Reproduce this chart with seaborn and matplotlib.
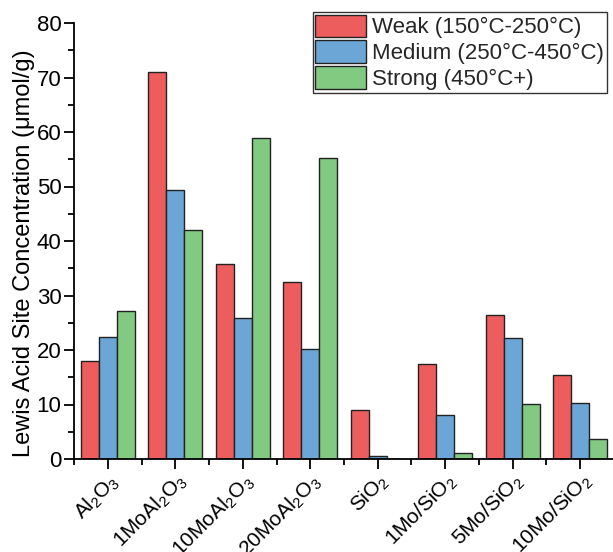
import matplotlib
matplotlib.use("Agg")
import matplotlib.pyplot as plt
import seaborn as sns
import pandas as pd

# Catalysts and acid-site concentrations (µmol/g) by desorption range
catalysts = [r"Al$_2$O$_3$", r"1MoAl$_2$O$_3$", r"10MoAl$_2$O$_3$", r"20MoAl$_2$O$_3$",
             r"SiO$_2$", r"1Mo/SiO$_2$", r"5Mo/SiO$_2$", r"10Mo/SiO$_2$"]
weak = [17.9, 71.1, 35.7, 32.5, 9.0, 17.5, 26.5, 15.4]
medium = [22.4, 49.4, 25.9, 20.1, 0.55, 8.15, 22.2, 10.3]
strong = [27.2, 42.1, 58.9, 55.3, 0.0, 1.1, 10.1, 3.6]
series_names = ["Weak (150°C-250°C)", "Medium (250°C-450°C)", "Strong (450°C+)"]
colors = ["#EE5D5D", "#6CA6D6", "#82C982"]
y_ticks = [0, 10, 20, 30, 40, 50, 60, 70, 80]

sns.set_theme(style="ticks")
plt.rcParams["font.family"] = ["Liberation Sans", "DejaVu Sans"]
plt.rcParams["mathtext.fontset"] = "custom"
plt.rcParams["mathtext.rm"] = "Liberation Sans"
plt.rcParams["mathtext.it"] = "Liberation Sans:italic"
plt.rcParams["mathtext.bf"] = "Liberation Sans:bold"

rows = []
for name, vals in zip(series_names, [weak, medium, strong]):
    for cat, v in zip(catalysts, vals):
        rows.append({"catalyst": cat, "value": v, "strength": name})
df = pd.DataFrame(rows)

fig = plt.figure(figsize=(6.13, 5.52), dpi=100)
ax = fig.add_axes([74 / 613, 1 - 459 / 552, 540 / 613, 436 / 552])

sns.barplot(data=df, x="catalyst", y="value", hue="strength",
            order=catalysts, hue_order=series_names, palette=colors,
            saturation=1, width=0.8, edgecolor="#222222", linewidth=1.0,
            errorbar=None, ax=ax)

ax.set_xlim(-0.5, 7.5)
ax.set_ylim(0, 80)
ax.set_yticks(y_ticks)
ax.set_yticks([5, 15, 25, 35, 45, 55, 65, 75], minor=True)
ax.set_xticks([i + 0.5 for i in range(-1, 8)], minor=True)

for side in ["top", "right"]:
    ax.spines[side].set_visible(False)
for side in ["left", "bottom"]:
    ax.spines[side].set_linewidth(1.3)
    ax.spines[side].set_color("black")

ax.tick_params(axis="both", which="major", length=7, width=1.3, color="black",
               labelsize=16, labelcolor="black", direction="out")
ax.tick_params(axis="both", which="minor", length=4, width=1.3, color="black",
               direction="out")
ax.tick_params(axis="y", which="major", pad=2)
ax.tick_params(axis="x", which="major", pad=1, labelsize=15)

for lab in ax.get_xticklabels():
    lab.set_rotation(45)
    lab.set_ha("right")
    lab.set_va("top")
    lab.set_rotation_mode("anchor")

ax.set_xlabel("")
ax.set_ylabel("Lewis Acid Site Concentration (\u03bcmol/g)", fontsize=17, color="black")
ax.yaxis.set_label_coords(-0.072, 0.472)

leg = ax.legend(loc="upper right", bbox_to_anchor=(607 / 613, 1 - 12 / 552),
                bbox_transform=fig.transFigure, borderaxespad=0,
                fontsize=16, frameon=True, fancybox=False, framealpha=1,
                edgecolor="#333333", handlelength=2.27, handleheight=1.18,
                handletextpad=0.3, labelspacing=0.09, borderpad=0.12,
                title=None)
leg.get_frame().set_linewidth(1.0)

fig.savefig("out.png", dpi=100)
